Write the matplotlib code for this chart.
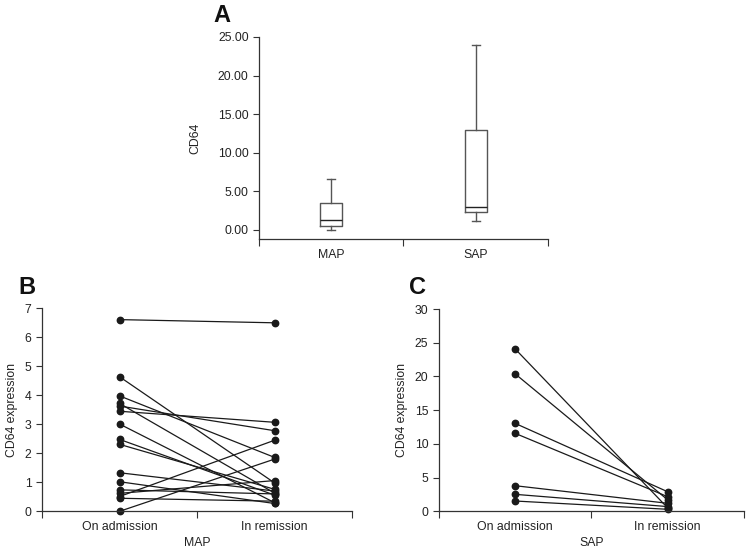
import matplotlib
matplotlib.use("Agg")
import matplotlib.pyplot as plt
import numpy as np

plt.rcParams['font.family'] = ['Liberation Sans', 'DejaVu Sans']
plt.rcParams['font.size'] = 9

# panel A: box summary (min, q1, median, q3, max)
groups = ['MAP', 'SAP']
box_stats = [
    dict(whislo=0.0, q1=0.56, med=1.25, q3=3.45, whishi=6.56),
    dict(whislo=1.12, q1=2.37, med=3.02, q3=12.95, whishi=23.96),
]
yticks_a = [0, 5, 10, 15, 20, 25]

# panel B: MAP, paired values
map_admission = [6.61, 4.64, 3.98, 3.72, 3.63, 3.45, 3.01, 2.48, 2.31, 1.33, 1.02, 0.74, 0.62, 0.51, 0.45, 0.0]
map_remission = [6.50, 0.98, 1.86, 0.63, 2.78, 3.07, 0.30, 0.56, 0.76, 0.70, 0.27, 0.60, 1.06, 2.45, 0.35, 1.80]

# panel C: SAP, paired values
sap_admission = [24.1, 20.4, 13.05, 11.57, 3.8, 2.52, 1.53]
sap_remission = [0.5, 1.7, 2.9, 2.17, 1.19, 0.7, 0.3]

phases = ['On admission', 'In remission']

col = '#222222'
fs = 8.8
fig = plt.figure(figsize=(7.52, 5.55), dpi=100)


def style(ax):
    for s in ['top', 'right']:
        ax.spines[s].set_visible(False)
    for s in ['left', 'bottom']:
        ax.spines[s].set_color('#333333')
        ax.spines[s].set_linewidth(0.9)
    ax.set_xlim(0, 2)
    ax.set_xticks([0, 1, 2])
    ax.set_xticklabels([])
    ax.tick_params(axis='x', which='major', length=5, color='#333333')
    ax.tick_params(axis='y', length=4, color='#333333', labelcolor=col, labelsize=fs)
    ax.set_xticks([0.5, 1.5], minor=True)
    ax.tick_params(axis='x', which='minor', length=0, labelcolor=col, labelsize=fs, pad=7)


# A
axA = fig.add_axes([0.3444, 0.5694, 0.3843, 0.364])
bp = axA.bxp(box_stats, positions=[0.5, 1.5], widths=0.15, showfliers=False,
             manage_ticks=False)
style(axA)
for k in ['boxes', 'whiskers', 'caps']:
    for l in bp[k]:
        l.set_color('#555555')
        l.set_linewidth(1.0)
for l in bp['medians']:
    l.set_color('#222222')
    l.set_linewidth(1.0)
for l in bp['caps']:
    c = np.mean(l.get_xdata())
    l.set_xdata([c - 0.028, c + 0.028])
axA.set_ylim(-1.17, 25)
axA.set_yticks(yticks_a)
axA.set_yticklabels(['%.2f' % v for v in yticks_a])
axA.set_xticklabels(groups, minor=True)
axA.set_ylabel('CD64', color=col, fontsize=fs, labelpad=12)

# B
axB = fig.add_axes([0.0559, 0.0787, 0.4122, 0.3658])
style(axB)
for a, r in zip(map_admission, map_remission):
    axB.plot([0.5, 1.5], [a, r], color='#1a1a1a', lw=0.9, marker='o', ms=4.6,
             clip_on=False)
axB.set_ylim(0, 7)
axB.set_yticks(range(0, 8))
axB.set_xticklabels(phases, minor=True)
axB.set_ylabel('CD64 expression', color=col, fontsize=fs, labelpad=5)
axB.set_xlabel('MAP', color=col, fontsize=fs, labelpad=3)

# C
axC = fig.add_axes([0.5834, 0.0787, 0.406, 0.3645])
style(axC)
for a, r in zip(sap_admission, sap_remission):
    axC.plot([0.5, 1.5], [a, r], color='#1a1a1a', lw=0.9, marker='o', ms=4.6,
             clip_on=False)
axC.set_ylim(0, 30)
axC.set_yticks(range(0, 31, 5))
axC.set_xticklabels(phases, minor=True)
axC.set_ylabel('CD64 expression', color=col, fontsize=fs, labelpad=5)
axC.set_xlabel('SAP', color=col, fontsize=fs, labelpad=3)

fig.text(222 / 752, 1 - 15 / 555, 'A', fontsize=17, fontweight='bold', ha='center', va='center', color='#111111')
fig.text(27 / 752, 1 - 287 / 555, 'B', fontsize=17, fontweight='bold', ha='center', va='center', color='#111111')
fig.text(418 / 752, 1 - 287 / 555, 'C', fontsize=17, fontweight='bold', ha='center', va='center', color='#111111')

fig.savefig('out.png', dpi=100, facecolor='white')
